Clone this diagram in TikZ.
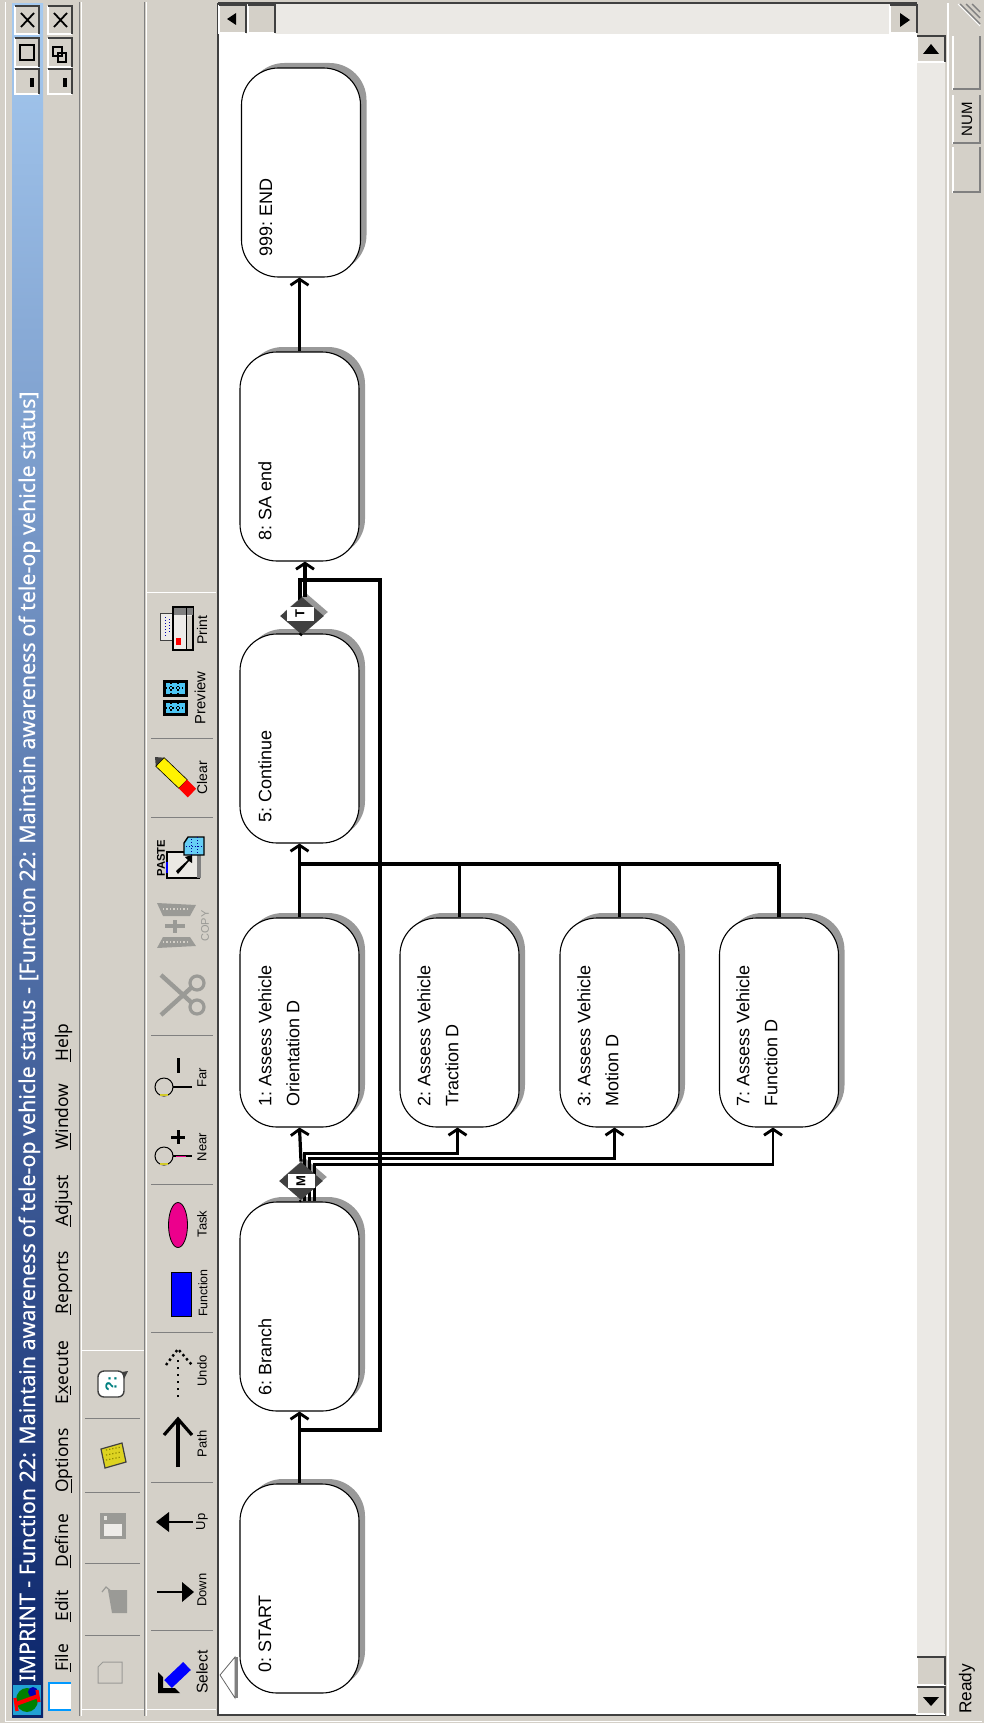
\documentclass[tikz,border=0pt]{standalone}
\usepackage{fontspec}
\usepackage{graphicx}
\setmainfont{Liberation Sans}
\newfontfamily\uifont{Noto Sans}
\newfontfamily\titlefont[FakeBold=0.4]{Noto Sans}
\usetikzlibrary{arrows.meta,shapes.geometric}
\definecolor{ui}{HTML}{D4D0C8}
\definecolor{midgray}{HTML}{808080}
\definecolor{dk}{HTML}{404040}
\definecolor{dots}{HTML}{EBE9E5}
\definecolor{shadowg}{HTML}{999999}
\definecolor{distool}{HTML}{9A9A96}
\definecolor{titledark}{HTML}{0A246A}
\definecolor{titlelight}{HTML}{A6CAF0}
\newcommand{\bevel}[4]{%
  \fill[ui] (#1,#2) rectangle (#3,#4);
  \draw[white,line width=0.6pt] (#1,#2) -- (#1,#4) -- (#3,#4);
  \draw[dk,line width=0.7pt] (#1,#2) -- (#3,#2) -- (#3,#4);
}
\newcommand{\sunken}[4]{%
  \fill[ui] (#1,#2) rectangle (#3,#4);
  \draw[white,line width=0.6pt] (#1,#2) -- (#1,#4) -- (#3,#4);
  \draw[midgray,line width=0.7pt] (#1,#4) -- (#3,#4) -- (#3,#2);
}
\tikzset{
  x=0.5pt,y=-0.5pt,
  taskbox/.style={draw=black,line width=0.55pt,fill=white,rounded corners=18.5pt,minimum width=59.5pt,minimum height=104.5pt,inner sep=0pt},
  tasktext/.style={rotate=90,anchor=west,inner sep=0pt,align=left,font=\frenchspacing\fontsize{9}{14}\selectfont},
  conn/.style={line width=1.6pt,draw=black},
  connthin/.style={line width=1.1pt,draw=black},
  arr/.style={-{Straight Barb[length=3pt,width=9pt,line width=1.4pt]}},
  gate/.style={diamond,fill=dk,minimum width=22pt,minimum height=19pt,inner sep=0pt},
  gateshadow/.style={diamond,fill=shadowg,minimum width=22pt,minimum height=19pt,inner sep=0pt},
  gatelabel/.style={rotate=90,fill=white,inner sep=0pt,minimum width=7pt,minimum height=13.5pt,font=\fontsize{6.5}{7}\selectfont\bfseries},
  menutext/.style={rotate=90,anchor=base west,inner sep=0pt,font=\uifont\fontsize{8.7}{10}\selectfont},
  toollabel/.style={rotate=90,anchor=center,inner sep=0pt,font=\fontsize{6.5}{7}\selectfont},
  sepline/.style={draw=midgray,line width=0.4pt},
  seplight/.style={draw=white,line width=0.5pt},
}
\begin{document}
\begin{tikzpicture}
\useasboundingbox (0,0) rectangle (984,1723);
\fill[ui] (0,0) rectangle (984,1723);
% outer frame
\draw[white,line width=0.5pt] (5,2) -- (5,1721) -- (982,1721);
% title bar
\shade[bottom color=titledark,top color=titlelight] (12,4) rectangle (43,1717);
\node[rotate=90,anchor=base west,inner sep=0pt,text=white] (title) at (35,1682) {\resizebox{645pt}{!}{\titlefont\fontsize{10}{12}\selectfont IMPRINT - Function 22: Maintain awareness of tele-op vehicle status - [Function 22: Maintain awareness of tele-op vehicle status]}};
% app icon
\fill[cyan!70!teal] (13,1685) rectangle (41,1715);
\fill[green!50!black] (27,1700) ellipse (11 and 12);
\fill[blue!70!black] (33,1692) ellipse (5 and 5);
\draw[red,line width=2pt] (16,1704) -- (38,1696);
\draw[red,line width=1.6pt] (15,1698) -- (17,1711) (37,1690) -- (39,1702);
% window buttons
\bevel{15}{6}{39}{34}
\bevel{15}{38}{39}{67}
\bevel{15}{69}{39}{94}
\bevel{48}{6}{72}{34}
\bevel{48}{38}{72}{67}
\bevel{48}{69}{72}{94}
\draw[black,line width=0.9pt] (21,13) -- (34,27) (34,13) -- (21,27);
\draw[black,line width=0.9pt] (54,13) -- (67,27) (67,13) -- (54,27);
\draw[black,line width=0.8pt] (20,45) rectangle (34,60);
\draw[black,line width=1.1pt] (20,45) -- (20,60);
\draw[black,line width=0.6pt] (53,47) rectangle (62,56);
\draw[black,line width=0.6pt] (58,53) rectangle (66,62);
\fill[black] (30,78) rectangle (34,87);
\fill[black] (63,78) rectangle (67,87);
% menu bar
\fill[white] (49,1683) rectangle (71,1710);
\draw[blue!40!cyan,line width=0.6pt] (71,1683) -- (49,1683) -- (49,1710) -- (71,1710);
\node[menutext] (mFile) at (68,1672) {\underline{F}ile};
\node[menutext] (mEdit) at (68,1622) {\underline{E}dit};
\node[menutext] (mDefine) at (68,1568) {\underline{D}efine};
\node[menutext] (mOptions) at (68,1493) {\underline{O}ptions};
\node[menutext] (mExecute) at (68,1405) {E\underline{x}ecute};
\node[menutext] (mReports) at (68,1315) {\underline{R}eports};
\node[menutext] (mAdjust) at (68,1227) {\underline{A}djust};
\node[menutext] (mWindow) at (68,1150) {\underline{W}indow};
\node[menutext] (mHelp) at (68,1062) {\underline{H}elp};
% toolbar separators
\draw[sepline] (79,2) -- (79,1716); \draw[seplight] (81,2) -- (81,1716);
\draw[sepline] (144,2) -- (144,1716); \draw[seplight] (146,2) -- (146,1716);
\draw[seplight] (82,1350) -- (144,1350);
\draw[seplight] (147,592) -- (216,592);
\draw[seplight] (82,1709) -- (144,1709);\draw[seplight] (147,1709) -- (216,1709);
\foreach \yy in {1635,1563,1492,1418}{\draw[sepline] (85,\yy) -- (140,\yy);}
\foreach \yy in {1630,1482,1332,1184,1035,817,738}{\draw[sepline] (151,\yy) -- (213,\yy);}
% second-row icons
\draw[distool,fill=ui,line width=0.5pt] (98,1667) -- (103,1662) -- (122,1662) -- (122,1683) -- (98,1683) -- cycle;
\fill[distool] (108,1590) -- (127,1590) -- (127,1613) -- (112,1613) -- cycle;
\draw[distool,line width=0.6pt] (102,1592) -- (106,1587) -- (112,1592);
\fill[distool] (100,1513) rectangle (126,1539);
\fill[ui!40!white] (104,1524) rectangle (122,1536);
\fill[ui!60!white] (104,1516) rectangle (107,1520);
\fill[yellow!85!black,draw=dk,line width=0.6pt] (101,1449) -- (122,1443) -- (126,1462) -- (105,1468) -- cycle;
\foreach \yy in {1450,1455,1460}{\draw[olive,line width=0.6pt,densely dotted] (106,\yy) -- (121,\yy-3);}
\draw[dk,fill=white,line width=0.7pt,rounded corners=3pt] (98,1371) rectangle (124,1397);
\fill[dk] (122,1372) -- (128,1371) -- (124,1379) -- cycle;
\node[rotate=90,inner sep=0pt,text=teal,font=\bfseries\fontsize{8}{9}\selectfont] (helpq) at (111,1384) {?:};
% third-row icons
\draw[blue,line width=5.5pt] (168,1684) -- (187,1666);
\fill[black] (158,1693) -- (158,1672) -- (163,1677) -- (163,1688) -- (175,1688) -- (180,1693) -- cycle;
\node[toollabel,font=\fontsize{7.8}{9}\selectfont] (lSelect) at (202,1672) {Select};
\draw[black,line width=1.2pt] (157,1592) -- (186,1592);
\fill[black] (194,1592) -- (182,1582) -- (182,1602) -- cycle;
\node[toollabel] (lDown) at (202,1590) {Down};
\draw[black,line width=1.2pt] (165,1522) -- (193,1522);
\fill[black] (156,1522) -- (169,1512) -- (169,1532) -- cycle;
\node[toollabel] (lUp) at (202,1522) {Up};
\draw[black,line width=1.8pt] (178,1467) -- (178,1420);
\draw[black,line width=1.6pt] (164,1435) -- (178,1419) -- (192,1435);
\node[toollabel] (lPath) at (202,1444) {Path};
\draw[black,line width=1pt,dash pattern=on 1pt off 2.5pt] (178,1397) -- (178,1358);
\draw[black,line width=1.2pt,dash pattern=on 1.2pt off 1.5pt] (166,1365) -- (178,1349) -- (192,1365);
\node[toollabel] (lUndo) at (202,1371) {Undo};
\fill[blue,draw=black,line width=0.5pt] (171,1272) rectangle (191,1316);
\node[toollabel,font=\fontsize{6.2}{7}\selectfont] (lFunction) at (203,1293) {Function};
\fill[magenta,draw=black,line width=0.4pt] (178,1225) ellipse (9.5 and 22.5);
\node[toollabel] (lTask) at (202,1224) {Task};
\draw[black,line width=0.5pt,fill=ui] (164,1156) circle (9);
\draw[yellow!80!black,line width=0.8pt] (160,1164) -- (168,1164);
\draw[black,line width=1.4pt] (173,1156) -- (192,1156);
\draw[magenta,line width=0.5pt] (176,1156) -- (186,1156);
\draw[black,line width=1.5pt] (178,1130) -- (178,1144) (171,1137) -- (185,1137);
\node[toollabel] (lNear) at (202,1147) {Near};
\draw[black,line width=0.5pt,fill=ui] (164,1087) circle (9);
\draw[yellow!80!black,line width=0.8pt] (160,1095) -- (168,1095);
\draw[black,line width=1.4pt] (173,1087) -- (192,1087);
\draw[black,line width=1.5pt] (178,1058) -- (178,1073);
\node[toollabel] (lFar) at (202,1078) {Far};
% scissors (disabled)
\draw[distool,line width=2.2pt] (161,975) -- (192,1003) (161,1015) -- (192,987);
\draw[distool,line width=1.6pt] (197,983) circle (7);
\draw[distool,line width=1.6pt] (197,1007) circle (7);
% copy (disabled)
\fill[distool] (157,903) -- (196,905) -- (190,916) -- (163,916) -- cycle;
\fill[distool] (157,948) -- (196,946) -- (190,937) -- (163,937) -- cycle;
\draw[ui,line width=0.7pt,densely dotted] (163,909) -- (188,909) (163,942) -- (188,942);
\draw[distool,line width=1.6pt] (165,926) -- (185,926) (175,920) -- (175,933);
\node[toollabel,text=distool,font=\fontsize{5.5}{6}\selectfont] (lCopy) at (205,926) {COPY};
% paste
\node[toollabel,font=\bfseries\fontsize{5.6}{6}\selectfont] (lPaste) at (161,858) {PASTE};
\fill[ui!50!white,draw=black,line width=0.6pt] (167,852) rectangle (199,878);
\fill[midgray] (197,852) rectangle (201,878);
\fill[blue] (166,862) rectangle (168,873);
\fill[black] (176,871) -- (188,860) -- (185,857) -- (192,855) -- (192,863) -- (189,861) -- (178,874) -- cycle;
\fill[cyan!60!white,draw=black,line width=0.7pt] (188,837) -- (204,837) -- (204,855) -- (184,855) -- (184,843) -- cycle;
\draw[blue!60!black,line width=0.5pt,densely dotted] (191,839) -- (191,855) (197,837) -- (197,855) (186,846) -- (204,846);
% clear (pencil)
\fill[dk] (155,757) -- (164.2,757.7) -- (155.8,766.3) -- cycle;
\fill[yellow,draw=black,line width=0.3pt] (164.2,757.7) -- (187.2,779.7) -- (178.8,788.3) -- (155.8,766.3) -- cycle;
\fill[red] (187.2,779.7) -- (196.2,788.7) -- (187.8,797.3) -- (178.8,788.3) -- cycle;
\node[toollabel,font=\fontsize{7}{8}\selectfont] (lClear) at (202,778) {Clear};
% preview
\fill[black] (163,680) rectangle (188,697);
\fill[black] (163,700) rectangle (188,716);
\fill[cyan!70!white] (166,683) rectangle (185,694);
\fill[cyan!70!white] (166,703) rectangle (185,713);
\draw[black,line width=0.6pt,densely dotted] (171,683) -- (171,694) (178,683) -- (178,694) (166,688) -- (185,688) (171,703) -- (171,713) (178,703) -- (178,713) (166,708) -- (185,708);
\node[toollabel,font=\fontsize{7.4}{8}\selectfont] (lPreview) at (200,698) {Preview};
% print
\fill[ui!40!white,draw=dk,line width=0.5pt] (160,613) rectangle (173,640);
\draw[blue!70!black,line width=0.5pt,densely dotted] (165,617) -- (165,636) (169,619) -- (169,634);
\fill[ui!40!white,draw=black,line width=0.6pt] (173,607) rectangle (193,650);
\fill[midgray] (174,608) rectangle (193,615);
\fill[ui] (187,616) rectangle (192,649);
\draw[black,line width=0.5pt] (186,607) -- (186,650);
\fill[red] (176,638) rectangle (181,645);
\node[toollabel,font=\fontsize{7}{8}\selectfont] (lPrint) at (202,630) {Print};
% client area
\draw[dk,line width=1pt] (218,3) -- (218,1715) -- (946,1715);
\draw[dk,line width=0.8pt] (218,3) -- (917,3);
\fill[white] (219,34) rectangle (917,1714);
\fill[dots] (219,4) rectangle (917,34);
\fill[dots] (917,36) rectangle (945,1714);
\bevel{219}{5}{246}{33}
\bevel{248}{5}{275}{33}
\bevel{890}{5}{917}{33}
\bevel{917}{36}{945}{62}
\bevel{917}{1657}{945}{1685}
\bevel{917}{1687}{945}{1714}
\fill[black] (227,19) -- (236,13) -- (236,25) -- cycle;
\fill[black] (910,20) -- (900,13) -- (900,27) -- cycle;
\fill[black] (931,44) -- (923,54) -- (939,54) -- cycle;
\fill[black] (931,1706) -- (923,1697) -- (939,1697) -- cycle;
% status bar
\draw[white,line width=0.6pt] (948,3) -- (948,1716);
\sunken{953}{36}{980}{89}
\sunken{953}{95}{980}{143}
\sunken{953}{147}{980}{192}
\node[rotate=90,inner sep=0pt,font=\fontsize{7.5}{9}\selectfont] (sNum) at (967,119) {NUM};
\node[rotate=90,anchor=west,inner sep=0pt,font=\fontsize{8.6}{10}\selectfont] (sReady) at (967,1714) {Ready};
\draw[midgray,line width=0.7pt] (960,4) -- (980,24) (966,4) -- (980,18) (972,4) -- (980,12);
\draw[white,line width=0.4pt] (958,4) -- (980,26);
% origin marker
\fill[midgray] (235,1657) rectangle (238,1698);
\draw[black!60,fill=white,line width=0.4pt] (220,1675) -- (235,1657) -- (235,1698) -- cycle;
% task boxes
\foreach \px/\py in {299.5/1588.5,299.5/1306.5,299.5/1022.5,459.5/1022.5,619.5/1022.5,779/1022.5,299.5/738.5,299.5/456.5,301/172.5}{
  \path[fill=shadowg,rounded corners=18.5pt] (\px-59.5+6,\py-104.5-5) rectangle (\px+59.5+6,\py+104.5-5);
}
\node[taskbox] (b0) at (299.5,1588.5) {};
\node[taskbox] (b6) at (299.5,1306.5) {};
\node[taskbox] (b1) at (299.5,1022.5) {};
\node[taskbox] (b2) at (459.5,1022.5) {};
\node[taskbox] (b3) at (619.5,1022.5) {};
\node[taskbox] (b7) at (779,1022.5) {};
\node[taskbox] (b5) at (299.5,738.5) {};
\node[taskbox] (b8) at (299.5,456.5) {};
\node[taskbox] (b999) at (301,172.5) {};
\node[tasktext] (t0) at (265,1673) {0: START};
\node[tasktext] (t6) at (265,1396) {6: Branch};
\node[tasktext] (t1) at (279,1107) {1: Assess Vehicle\\Orientation D};
\node[tasktext] (t2) at (438,1107) {2: Assess Vehicle\\Traction D};
\node[tasktext] (t3) at (598,1107) {3: Assess Vehicle\\Motion D};
\node[tasktext] (t7) at (757,1107) {7: Assess Vehicle\\Function D};
\node[tasktext] (t5) at (265,823) {5: Continue};
\node[tasktext] (t8) at (265,541) {8: SA end};
\node[tasktext] (t999) at (266,257) {999: END};
% connectors
\coordinate (loopA) at (300,1430);
\coordinate (loopB) at (380,1430);
\coordinate (loopC) at (380,580);
\coordinate (loopD) at (300,580);
\coordinate (joinR) at (779,864);
\coordinate (join1) at (300,864);
\node[gateshadow] (dTs) at (306,612) {};
\node[gateshadow] (dMs) at (305,1177) {};
\draw[conn,arr] (b0.north) -- (b6.south);
\draw[conn,arr] (b1.north) -- (b5.south);
\draw[conn,arr] (b8.north) -- ([xshift=-0.75pt]b999.south);
\draw[conn] (join1) -- (joinR);
\draw[conn] (b2.north) -- (b2.north |- join1);
\draw[conn] (b3.north) -- (b3.north |- join1);
\draw[conn] (b7.north) -- (b7.north |- join1);
\draw[connthin,arr] ([xshift=2.5pt]b6.north) -- ++(0,-48) -| ([xshift=-1pt]b2.south);
\draw[connthin,arr] ([xshift=5pt]b6.north) -- ++(0,-43) -| ([xshift=-2.5pt]b3.south);
\draw[connthin,arr] ([xshift=7.5pt]b6.north) -- ++(0,-37) -| ([xshift=-3pt]b7.south);
\draw[conn] (loopA) -- (loopB) -- (loopC) -- (loopD) -- (300,600);
\node[gate] (dT) at (302,616) {};
\node[gatelabel] (dTl) at (300,614) {T};
\node[gate] (dM) at (301,1181) {};
\node[gatelabel] (dMl) at (301,1181) {M};
\draw[conn,arr] (dM.north) -- (b1.south);
\draw[conn,arr] ([xshift=1.5pt]dT.north) -- ([xshift=2.75pt]b8.south);
\draw[connthin] (b5.north) -- (dT.south);
\draw[connthin] (dM.south) -- (b6.north);
\end{tikzpicture}
\end{document}
